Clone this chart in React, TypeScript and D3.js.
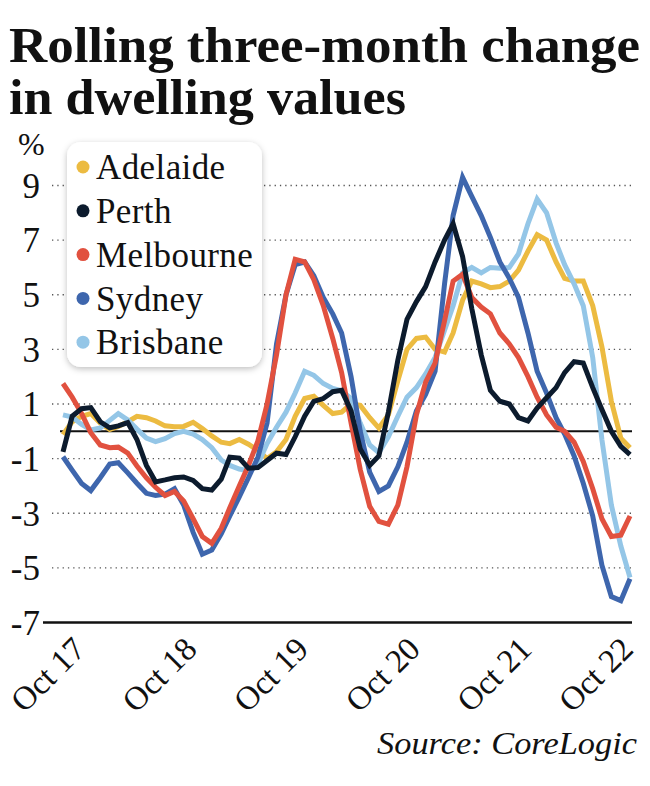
import React from "react";
import * as d3 from "d3";

const START = new Date(2017, 8, 1); // Sep 2017
const N_MONTHS = 62;

const adelaide = [-0.12,0.35,0.55,0.65,0.3,0.07,0.18,0.35,0.55,0.5,0.38,0.2,0.17,0.18,0.33,0.1,-0.17,-0.4,-0.45,-0.3,-0.47,-0.7,-1.0,-0.75,-0.3,0.55,1.2,1.28,0.95,0.65,0.7,1.0,0.95,0.5,0.12,0.6,1.85,3.0,3.4,3.45,3.0,2.9,3.6,4.8,5.5,5.4,5.26,5.3,5.5,5.9,6.6,7.2,7.0,6.2,5.6,5.5,5.5,4.6,3.1,1.1,-0.25,-0.6];
const perth = [-0.75,0.55,0.83,0.87,0.35,0.13,0.2,0.32,-0.3,-1.25,-1.85,-1.78,-1.7,-1.67,-1.8,-2.1,-2.15,-1.75,-0.95,-0.98,-1.35,-1.33,-1.07,-0.8,-0.85,-0.2,0.55,1.1,1.2,1.45,1.5,0.75,-0.65,-1.25,-0.9,0.7,2.6,4.1,4.75,5.3,6.2,7.0,7.6,6.4,4.5,2.8,1.5,1.1,1.0,0.5,0.38,0.85,1.23,1.6,2.15,2.55,2.5,1.6,0.8,0.0,-0.55,-0.85];
const melbourne = [1.75,1.25,0.65,-0.05,-0.5,-0.6,-0.58,-0.8,-1.27,-1.7,-2.05,-2.35,-2.2,-2.55,-3.2,-3.85,-4.1,-3.55,-2.8,-2.0,-1.25,-0.35,1.0,2.8,5.0,6.3,6.2,5.55,4.6,3.4,2.15,0.3,-1.4,-2.75,-3.3,-3.4,-2.7,-1.3,0.6,1.8,2.5,4.05,5.5,5.75,4.9,4.55,4.3,3.6,3.2,2.7,2.0,1.25,0.6,0.15,0.0,-0.4,-1.1,-2.1,-3.2,-3.85,-3.8,-3.1];
const sydney = [-0.93,-1.42,-1.91,-2.17,-1.7,-1.2,-1.15,-1.52,-1.9,-2.27,-2.35,-2.3,-2.1,-2.7,-3.7,-4.5,-4.35,-3.75,-3.1,-2.4,-1.7,-0.95,0.3,3.2,5.0,6.1,6.2,5.7,4.9,4.3,3.6,2.0,0.0,-1.5,-2.2,-2.0,-1.3,-0.4,0.75,1.35,2.2,5.4,7.9,9.3,8.6,7.9,7.1,6.2,5.6,4.9,3.6,2.2,1.4,0.5,-0.1,-0.9,-1.9,-3.1,-4.9,-6.05,-6.2,-5.4];
const brisbane = [0.6,0.52,0.25,0.05,0.12,0.4,0.65,0.42,0.08,-0.25,-0.38,-0.27,-0.08,0.0,-0.1,-0.3,-0.6,-1.05,-1.25,-1.38,-1.45,-1.2,-0.45,0.15,0.7,1.4,2.2,2.05,1.75,1.57,1.48,1.2,0.3,-0.5,-0.78,-0.2,0.55,1.25,1.6,2.1,2.7,3.7,4.6,5.8,6.0,5.8,6.0,5.97,6.0,6.5,7.6,8.5,8.0,6.9,6.1,5.4,4.6,2.7,-0.3,-2.7,-4.2,-5.35];

const seriesNames = ["Adelaide", "Perth", "Melbourne", "Sydney", "Brisbane"];
const seriesColors = ["#ecbb41", "#0c1b2d", "#e1513f", "#3e66ad", "#94c6e7"];
const seriesValues = [adelaide, perth, melbourne, sydney, brisbane];
const drawOrder = [0, 4, 3, 2, 1];

const yTicks = [9, 7, 5, 3, 1, -1, -3, -5, -7];
const xTickYears = [2017, 2018, 2019, 2020, 2021, 2022];
const xTickLabels = ["Oct 17", "Oct 18", "Oct 19", "Oct 20", "Oct 21", "Oct 22"];

const W = 650;
const H = 786;
const SERIF = "'Liberation Serif', 'Times New Roman', serif";

export default function App() {
  const dates = d3.range(N_MONTHS).map((i) => d3.timeMonth.offset(START, i));
  const x = d3.scaleTime().domain([dates[0], dates[dates.length - 1]]).range([63, 630]);
  const y = d3.scaleLinear().domain([-7, 9]).range([622.5, 185.5]);

  const line = (vals: number[]) =>
    d3
      .line<number>()
      .x((_, i) => x(dates[i]))
      .y((v) => y(v))(vals) || "";

  return (
    <svg
      width={W}
      height={H}
      viewBox={`0 0 ${W} ${H}`}
      style={{ position: "absolute", left: 0, top: 0, background: "#fff" }}
      fontFamily={SERIF}
    >
      <defs>
        <filter id="shadow" x="-20%" y="-20%" width="140%" height="140%">
          <feDropShadow dx="0" dy="2" stdDeviation="3" floodColor="#000" floodOpacity="0.25" />
        </filter>
      </defs>
      <rect x={0} y={0} width={W} height={H} fill="#fff" />

      {/* Title */}
      <text x={9} y={62} fontSize={50} fontWeight="bold" fill="#111" textLength={631} lengthAdjust="spacingAndGlyphs">
        Rolling three-month change
      </text>
      <text x={9} y={114} fontSize={50} fontWeight="bold" fill="#111" textLength={397} lengthAdjust="spacingAndGlyphs">
        in dwelling values
      </text>

      {/* % label */}
      <text x={18} y={155} fontSize={32} fill="#111">%</text>

      {/* grid */}
      {yTicks.filter((t) => t !== -7).map((t) => (
        <line key={t} x1={52} x2={632} y1={y(t)} y2={y(t)} stroke="#555" strokeWidth={1.3} strokeDasharray="1.3 4" />
      ))}
      {yTicks.map((t) => (
        <text key={"l" + t} x={40} y={y(t)} dy="0.35em" textAnchor="end" fontSize={35} fill="#111">
          {t}
        </text>
      ))}

      {/* zero line and bottom axis */}
      <line x1={60} x2={632} y1={y(0)} y2={y(0)} stroke="#111" strokeWidth={2} />
      <line x1={43} x2={632} y1={y(-7)} y2={y(-7)} stroke="#111" strokeWidth={2.5} />

      {/* series */}
      {drawOrder.map((k) => (
        <path
          key={seriesNames[k]}
          d={line(seriesValues[k])}
          fill="none"
          stroke={seriesColors[k]}
          strokeWidth={5}
          strokeLinejoin="miter"
          strokeMiterlimit={3}
        />
      ))}

      {/* x labels */}
      {xTickYears.map((yr, i) => {
        const px = Math.min(x(new Date(yr, 9, 1)) + 15, 635);
        const py = 651;
        return (
          <text key={yr} x={px} y={py} transform={`rotate(-45 ${px} ${py})`} textAnchor="end" fontSize={33} fill="#111">
            {xTickLabels[i]}
          </text>
        );
      })}

      {/* legend */}
      <rect x={67} y={142} width={195} height={225} rx={14} fill="#fff" filter="url(#shadow)" />
      {seriesNames.map((n, i) => {
        const cy = 167 + i * 43.8;
        return (
          <g key={n}>
            <circle cx={83} cy={cy} r={6.5} fill={seriesColors[i]} />
            <text x={96} y={cy} dy="0.35em" fontSize={35} letterSpacing={0.4} fill="#111">
              {n}
            </text>
          </g>
        );
      })}

      {/* source */}
      <text x={637} y={754} textAnchor="end" fontSize={32} fontStyle="italic" fill="#111" textLength={260} lengthAdjust="spacingAndGlyphs">
        Source: CoreLogic
      </text>
    </svg>
  );
}
